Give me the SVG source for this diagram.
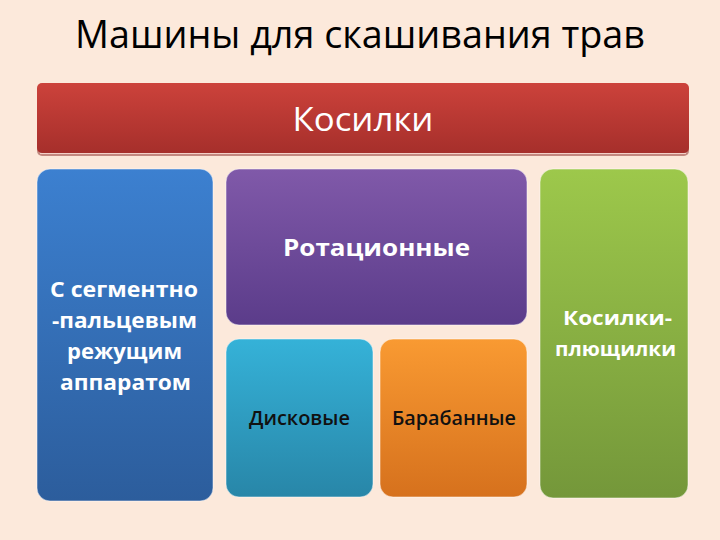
<svg xmlns="http://www.w3.org/2000/svg" width="720" height="540" viewBox="0 0 720 540">
<defs>
<linearGradient id="gRed" x1="0" y1="0" x2="0" y2="1"><stop offset="0" stop-color="#cc423b"/><stop offset="1" stop-color="#a62f2b"/></linearGradient>
<linearGradient id="gBlue" x1="0" y1="0" x2="0" y2="1"><stop offset="0" stop-color="#3c80d0"/><stop offset="1" stop-color="#2c5d9c"/></linearGradient>
<linearGradient id="gPurple" x1="0" y1="0" x2="0" y2="1"><stop offset="0" stop-color="#8059a9"/><stop offset="1" stop-color="#5b3c8a"/></linearGradient>
<linearGradient id="gTeal" x1="0" y1="0" x2="0" y2="1"><stop offset="0" stop-color="#35b2d8"/><stop offset="1" stop-color="#2886a8"/></linearGradient>
<linearGradient id="gOrange" x1="0" y1="0" x2="0" y2="1"><stop offset="0" stop-color="#f99a32"/><stop offset="1" stop-color="#d6711d"/></linearGradient>
<linearGradient id="gGreen" x1="0" y1="0" x2="0" y2="1"><stop offset="0" stop-color="#9dc84b"/><stop offset="1" stop-color="#74973a"/></linearGradient>
</defs>
<style>
.box{stroke:#ffffff;stroke-opacity:0.5;stroke-width:1}
.wt{fill:#ffffff;font-family:"Open Sans","Noto Sans",sans-serif;font-weight:700;text-anchor:middle}
.dk{fill:#111111;font-family:"Open Sans","Noto Sans",sans-serif;font-weight:600;text-anchor:middle}
</style>
<rect width="720" height="540" fill="#fce9db"/>
<text x="360" y="48" font-family="'Open Sans','Noto Sans',sans-serif" font-size="38" fill="#000" text-anchor="middle" textLength="570" lengthAdjust="spacingAndGlyphs">Машины для скашивания трав</text>
<g id="kosilki">
<rect x="37" y="86" width="652" height="70" rx="5" fill="#8a2a26" opacity="0.5"/>
<rect x="37" y="83" width="652" height="70" rx="5" fill="url(#gRed)"/>
<line x1="40" y1="153.5" x2="686" y2="153.5" stroke="#f4d0c8" stroke-width="1"/>
<text x="363" y="131" font-family="'Open Sans','Noto Sans',sans-serif" font-size="32" fill="#fff" text-anchor="middle" textLength="141" lengthAdjust="spacingAndGlyphs">Косилки</text>
</g>
<g id="segment">
<rect class="box" x="37" y="169" width="176" height="332" rx="13" fill="url(#gBlue)"/>
<text class="wt" x="124" y="297" font-size="21.5" textLength="148" lengthAdjust="spacingAndGlyphs">С сегментно</text>
<text class="wt" x="124.5" y="328" font-size="21.5" textLength="145" lengthAdjust="spacingAndGlyphs">-пальцевым</text>
<text class="wt" x="124.5" y="359" font-size="21.5" textLength="115" lengthAdjust="spacingAndGlyphs">режущим</text>
<text class="wt" x="125.5" y="390" font-size="21.5" textLength="131" lengthAdjust="spacingAndGlyphs">аппаратом</text>
</g>
<g id="rotation">
<rect class="box" x="226" y="169" width="301" height="156" rx="13" fill="url(#gPurple)"/>
<text class="wt" x="376.5" y="256" font-size="24" textLength="187" lengthAdjust="spacingAndGlyphs">Ротационные</text>
</g>
<g id="disk">
<rect class="box" x="226" y="339" width="147" height="158" rx="13" fill="url(#gTeal)"/>
<text class="dk" x="299.5" y="425" font-size="19" textLength="101" lengthAdjust="spacingAndGlyphs">Дисковые</text>
</g>
<g id="drum">
<rect class="box" x="380" y="339" width="147" height="158" rx="13" fill="url(#gOrange)"/>
<text class="dk" x="454" y="425" font-size="19" textLength="124" lengthAdjust="spacingAndGlyphs">Барабанные</text>
</g>
<g id="crusher">
<rect class="box" x="540" y="169" width="148" height="329" rx="13" fill="url(#gGreen)"/>
<text class="wt" x="617.5" y="325" font-size="20" textLength="109" lengthAdjust="spacingAndGlyphs">Косилки-</text>
<text class="wt" x="615.5" y="356" font-size="20" textLength="121" lengthAdjust="spacingAndGlyphs">плющилки</text>
</g>
<g id="connectors"></g>
</svg>
